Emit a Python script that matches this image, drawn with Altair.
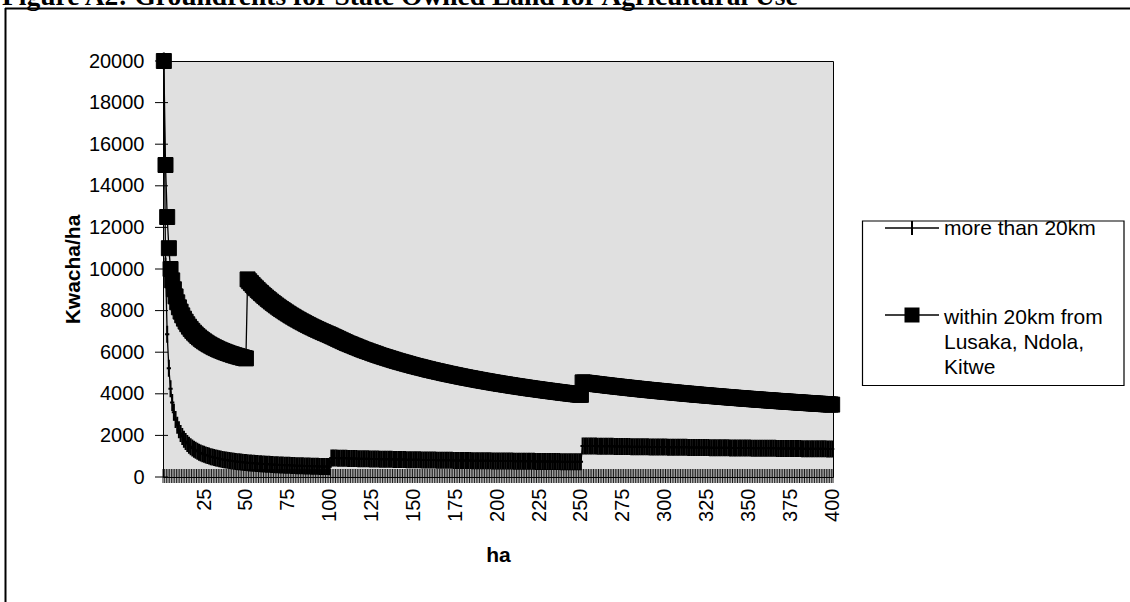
import altair as alt
import pandas as pd

# ---------------- data (Kwacha per ha) ----------------
more_1_100 = [20000, 10150, 6867, 5225, 4240, 3583, 3114, 2763, 2489, 2270,
              2091, 1942, 1815, 1707, 1613, 1531, 1459, 1394, 1337, 1285,
              1238, 1195, 1157, 1121, 1088, 1058, 1030, 1004, 979, 957,
              935, 916, 897, 879, 863, 847, 832, 818, 805, 793,
              780, 769, 758, 748, 738, 728, 719, 710, 702, 694,
              686, 679, 672, 665, 658, 652, 646, 640, 634, 628,
              623, 618, 613, 608, 603, 598, 594, 590, 586, 581,
              577, 574, 570, 566, 563, 559, 556, 553, 549, 546,
              543, 540, 537, 535, 532, 529, 526, 524, 521, 519,
              516, 514, 512, 510, 507, 505, 503, 501, 499, 497]
more_101_250 = [915, 913, 911, 909, 907, 905, 902, 900, 898, 896,
                894, 892, 890, 888, 887, 885, 883, 881, 879, 877,
                875, 873, 872, 870, 868, 866, 864, 863, 861, 859,
                858, 856, 855, 853, 852, 850, 849, 847, 846, 844,
                843, 841, 840, 838, 837, 835, 834, 832, 831, 829,
                828, 827, 825, 824, 823, 821, 820, 819, 817, 816,
                815, 814, 812, 811, 810, 809, 808, 806, 805, 804,
                803, 802, 800, 799, 798, 797, 796, 794, 793, 792,
                791, 790, 789, 788, 787, 786, 785, 784, 783, 782,
                781, 780, 779, 778, 777, 776, 775, 774, 773, 772,
                771, 770, 769, 768, 768, 767, 766, 765, 764, 763,
                762, 761, 760, 759, 759, 758, 757, 756, 755, 754,
                753, 752, 751, 750, 750, 749, 748, 747, 746, 745,
                744, 744, 743, 742, 742, 741, 740, 739, 739, 738,
                737, 736, 735, 735, 734, 733, 732, 732, 731, 730]
more_251_400 = [1496, 1495, 1493, 1492, 1491, 1489, 1488, 1487, 1485, 1484,
                1483, 1481, 1480, 1479, 1478, 1477, 1475, 1474, 1473, 1472,
                1471, 1469, 1468, 1467, 1466, 1465, 1463, 1462, 1461, 1460,
                1459, 1458, 1457, 1456, 1454, 1453, 1452, 1451, 1450, 1449,
                1448, 1447, 1446, 1445, 1443, 1442, 1441, 1440, 1439, 1438,
                1437, 1436, 1435, 1434, 1433, 1432, 1431, 1430, 1429, 1428,
                1427, 1426, 1425, 1424, 1423, 1422, 1421, 1420, 1419, 1418,
                1417, 1416, 1415, 1414, 1414, 1413, 1412, 1411, 1410, 1409,
                1408, 1407, 1406, 1405, 1404, 1403, 1402, 1401, 1400, 1399,
                1398, 1397, 1396, 1396, 1395, 1394, 1393, 1392, 1391, 1390,
                1389, 1388, 1388, 1387, 1386, 1385, 1384, 1384, 1383, 1382,
                1381, 1380, 1380, 1379, 1378, 1377, 1376, 1376, 1375, 1374,
                1373, 1372, 1372, 1371, 1370, 1369, 1368, 1368, 1367, 1366,
                1365, 1364, 1364, 1363, 1362, 1361, 1360, 1360, 1359, 1358,
                1357, 1356, 1356, 1355, 1354, 1353, 1352, 1352, 1351, 1350]

within_1_50 = [20000, 15000, 12500, 11000, 10000, 9453, 9026, 8683, 8399, 8158,
               7952, 7771, 7612, 7470, 7343, 7227, 7122, 7026, 6938, 6856,
               6780, 6710, 6644, 6582, 6524, 6470, 6418, 6369, 6323, 6279,
               6237, 6198, 6160, 6123, 6089, 6056, 6024, 5993, 5964, 5935,
               5908, 5882, 5856, 5832, 5808, 5785, 5763, 5742, 5721, 5701]
within_51_100 = [9500, 9410, 9322, 9237, 9154, 9073, 8995, 8918, 8844, 8771,
                 8700, 8631, 8563, 8498, 8433, 8370, 8309, 8248, 8190, 8132,
                 8076, 8021, 7967, 7914, 7862, 7811, 7761, 7712, 7664, 7617,
                 7571, 7526, 7481, 7437, 7395, 7352, 7311, 7270, 7230, 7191,
                 7152, 7114, 7076, 7040, 7003, 6967, 6932, 6898, 6864, 6830]
within_101_250 = [6792, 6754, 6717, 6679, 6641, 6603, 6565, 6528, 6490, 6452,
                  6419, 6387, 6354, 6321, 6289, 6256, 6223, 6190, 6158, 6125,
                  6096, 6068, 6039, 6010, 5982, 5953, 5924, 5895, 5867, 5838,
                  5813, 5787, 5762, 5737, 5712, 5686, 5661, 5636, 5610, 5585,
                  5562, 5540, 5517, 5495, 5472, 5449, 5427, 5404, 5382, 5359,
                  5339, 5318, 5298, 5278, 5258, 5237, 5217, 5197, 5176, 5156,
                  5138, 5119, 5101, 5083, 5065, 5046, 5028, 5010, 4991, 4973,
                  4956, 4940, 4923, 4906, 4890, 4873, 4856, 4839, 4823, 4806,
                  4791, 4775, 4760, 4745, 4730, 4714, 4699, 4684, 4668, 4653,
                  4639, 4625, 4611, 4597, 4583, 4568, 4554, 4540, 4526, 4512,
                  4499, 4486, 4473, 4460, 4448, 4435, 4422, 4409, 4396, 4383,
                  4371, 4359, 4347, 4335, 4323, 4310, 4298, 4286, 4274, 4262,
                  4251, 4240, 4229, 4218, 4207, 4195, 4184, 4173, 4162, 4151,
                  4141, 4130, 4120, 4109, 4099, 4088, 4078, 4067, 4057, 4046,
                  4036, 4027, 4017, 4007, 3998, 3988, 3978, 3968, 3959, 3949]
within_251_400 = [4550, 4540, 4530, 4520, 4510, 4500, 4490, 4480, 4469, 4459,
                  4449, 4440, 4430, 4421, 4411, 4401, 4392, 4382, 4373, 4363,
                  4354, 4345, 4336, 4327, 4318, 4309, 4300, 4291, 4282, 4273,
                  4264, 4256, 4247, 4239, 4230, 4221, 4213, 4204, 4196, 4187,
                  4179, 4171, 4163, 4155, 4147, 4139, 4131, 4123, 4115, 4107,
                  4099, 4092, 4084, 4076, 4069, 4061, 4053, 4045, 4038, 4030,
                  4023, 4015, 4008, 4001, 3994, 3986, 3979, 3972, 3964, 3957,
                  3950, 3943, 3936, 3929, 3923, 3916, 3909, 3902, 3895, 3888,
                  3881, 3875, 3868, 3861, 3855, 3848, 3841, 3834, 3828, 3821,
                  3815, 3808, 3802, 3796, 3790, 3783, 3777, 3771, 3764, 3758,
                  3752, 3746, 3740, 3734, 3728, 3722, 3716, 3710, 3704, 3698,
                  3692, 3686, 3681, 3675, 3669, 3663, 3657, 3652, 3646, 3640,
                  3635, 3629, 3624, 3618, 3613, 3607, 3602, 3596, 3591, 3585,
                  3580, 3574, 3569, 3563, 3558, 3553, 3547, 3542, 3536, 3531,
                  3526, 3521, 3516, 3511, 3506, 3500, 3495, 3490, 3485, 3480]

series_names = ["more than 20km", "within 20km from Lusaka, Ndola, Kitwe"]
legend_lines_2 = ["within 20km from", "Lusaka, Ndola,", "Kitwe"]
y_tick_values = [0, 2000, 4000, 6000, 8000, 10000, 12000, 14000, 16000, 18000, 20000]
x_label_values = [25, 50, 75, 100, 125, 150, 175, 200, 225, 250, 275, 300, 325, 350, 375, 400]
n_categories = 400
x_tick_bounds = [k + 0.5 for k in range(n_categories + 1)]

title_text = "Figure A2: Groundrents for State Owned Land for Agricultural Use"

# ---------------- layout ----------------
W, H = 670, 416
LEFT, TOP = 163, 61
SANS = "Liberation Sans"
SERIF = "Liberation Serif"
VBAR = "M-0.25,0L0.25,0M0,-1L0,1"

more_vals = more_1_100 + more_101_250 + more_251_400
within_vals = within_1_50 + within_51_100 + within_101_250 + within_251_400
df_more = pd.DataFrame({"ha": list(range(1, len(more_vals) + 1)), "kwacha": more_vals,
                        "series": series_names[0]})
df_within = pd.DataFrame({"ha": list(range(1, len(within_vals) + 1)), "kwacha": within_vals,
                          "series": series_names[1]})

x_scale = alt.Scale(domain=[0.5, n_categories + 0.5], nice=False, zero=False)
y_scale = alt.Scale(domain=[0, 20000], nice=False, zero=True)

x_axis = alt.Axis(values=x_label_values, labelAngle=270, ticks=False, tickSize=0,
                  domain=False, grid=False, labelFont=SANS, labelFontSize=20,
                  labelColor="black", labelPadding=11, labelFlush=False, labelOverlap=False,
                  title="ha", titleFont=SANS, titleFontSize=21, titleFontWeight="bold",
                  titleColor="black", titleX=W / 2, titleY=78, titleAlign="center",
                  titleBaseline="middle")
y_axis = alt.Axis(values=y_tick_values, format="d", ticks=False, tickSize=0, domain=False,
                  grid=False, labelFont=SANS, labelFontSize=20, labelColor="black",
                  labelPadding=19, labelFlush=False, labelOverlap=False,
                  title="Kwacha/ha", titleFont=SANS, titleFontSize=21, titleFontWeight="bold",
                  titleColor="black", titleAngle=270, titleX=-90, titleY=H / 2,
                  titleAlign="center", titleBaseline="middle")

X = lambda f: alt.X(f, scale=x_scale, axis=x_axis)
Y = lambda f: alt.Y(f, scale=y_scale, axis=y_axis)

one = alt.Data(values=[{"k": 0}])

# crossing tick marks
x_ticks = alt.Chart(pd.DataFrame({"ha": x_tick_bounds})).mark_rule(
    color="black", strokeWidth=0.9).encode(
    x=X("ha:Q"), y=alt.value(H - 8), y2=alt.value(H + 6))
y_ticks = alt.Chart(pd.DataFrame({"kwacha": y_tick_values})).mark_rule(
    color="black", strokeWidth=1).encode(
    y=Y("kwacha:Q"), x=alt.value(-8), x2=alt.value(5))

line_more = alt.Chart(df_more).mark_line(color="black", strokeWidth=1.3).encode(
    x=X("ha:Q"), y=Y("kwacha:Q"))
pts_more = alt.Chart(df_more).mark_point(
    shape=VBAR, filled=False, color="black", strokeWidth=2, size=289, opacity=1).encode(
    x=X("ha:Q"), y=Y("kwacha:Q"))
line_within = alt.Chart(df_within).mark_line(color="black", strokeWidth=1.3).encode(
    x=X("ha:Q"), y=Y("kwacha:Q"))
pts_within = alt.Chart(df_within).mark_point(
    shape="square", filled=True, fill="black", stroke="black", strokeWidth=1,
    size=225, opacity=1).encode(
    x=X("ha:Q"), y=Y("kwacha:Q"))

# title (partly cut off at the top, as in the source) and outer frame
title = alt.Chart(one).mark_text(
    text=title_text, font=SERIF, fontSize=27.5, fontWeight="bold", align="left",
    baseline="alphabetic", color="black").encode(
    x=alt.value(2 - LEFT), y=alt.value(5 - TOP))
frame_top = alt.Chart(one).mark_rule(color="black", strokeWidth=2).encode(
    x=alt.value(5 - LEFT), x2=alt.value(1130 - LEFT), y=alt.value(8.5 - TOP))
frame_left = alt.Chart(one).mark_rule(color="black", strokeWidth=2).encode(
    x=alt.value(5.5 - LEFT), y=alt.value(8 - TOP), y2=alt.value(602 - TOP))

# legend
LX0, LX1, LY0, LY1 = 862.5 - LEFT, 1124 - LEFT, 221 - TOP, 385.5 - TOP
legend_box = alt.Chart(one).mark_rect(fill="white", stroke="black", strokeWidth=1.2).encode(
    x=alt.value(LX0), x2=alt.value(LX1), y=alt.value(LY0), y2=alt.value(LY1))
E1Y, E2Y = 228 - TOP, 315 - TOP
SYM_X0, SYM_X1, SYM_XC, TXT_X = 885 - LEFT, 939 - LEFT, 912 - LEFT, 944 - LEFT
leg1_line = alt.Chart(one).mark_rule(color="black", strokeWidth=1.5).encode(
    x=alt.value(SYM_X0), x2=alt.value(SYM_X1), y=alt.value(E1Y))
leg1_sym = alt.Chart(one).mark_point(shape="M0,-1L0,1", filled=False, color="black",
                                     strokeWidth=2, size=196, opacity=1).encode(
    x=alt.value(SYM_XC), y=alt.value(E1Y))
leg1_txt = alt.Chart(one).mark_text(text=series_names[0], font=SANS, fontSize=21,
                                    align="left", baseline="middle", color="black").encode(
    x=alt.value(TXT_X), y=alt.value(E1Y + 1))
leg2_line = alt.Chart(one).mark_rule(color="black", strokeWidth=1.5).encode(
    x=alt.value(SYM_X0), x2=alt.value(SYM_X1), y=alt.value(E2Y))
leg2_sym = alt.Chart(one).mark_point(shape="square", filled=True, fill="black",
                                     stroke="black", size=169, opacity=1).encode(
    x=alt.value(SYM_XC), y=alt.value(E2Y))
leg2_txt = [alt.Chart(one).mark_text(text=t, font=SANS, fontSize=21, align="left",
                                     baseline="middle", color="black").encode(
    x=alt.value(TXT_X), y=alt.value(E2Y + 3 + 25 * i)) for i, t in enumerate(legend_lines_2)]

chart = alt.layer(
    x_ticks, y_ticks, line_more, pts_more, line_within, pts_within,
    title, frame_top, frame_left,
    legend_box, leg1_line, leg1_sym, leg1_txt, leg2_line, leg2_sym, *leg2_txt
).properties(
    width=W, height=H,
    padding={"left": LEFT, "top": TOP, "right": 1130 - LEFT - W, "bottom": 602 - TOP - H},
    autosize=alt.AutoSizeParams(type="none"),
    background="white",
).configure_view(fill="#e0e0e0", stroke="black", strokeWidth=1)

chart.save("out.html", embed_options={"renderer": "svg", "actions": False})
